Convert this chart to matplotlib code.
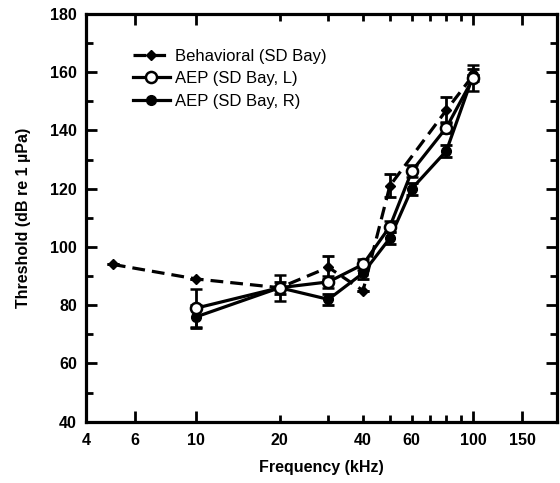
import matplotlib
matplotlib.use("Agg")
import matplotlib.pyplot as plt
from matplotlib.lines import Line2D
from matplotlib.ticker import FixedLocator, FixedFormatter

plt.rcParams['font.family'] = ['Liberation Sans', 'DejaVu Sans']

# Behavioral (SD Bay)
beh_f = [5, 10, 20, 30, 40, 50, 80, 100]
beh_db = [94, 89, 86, 93, 85, 121, 147, 159]
beh_err = [0, 0, 0, 4, 0, 4, 4.5, 0]

# AEP (SD Bay, L)
l_f = [10, 20, 30, 40, 50, 60, 80, 100]
l_db = [79, 86, 88, 94, 107, 126, 141, 158]
l_err = [6.5, 4.5, 2, 2, 2, 2, 2, 4.5]

# AEP (SD Bay, R)
r_f = [10, 20, 30, 40, 50, 60, 80, 100]
r_db = [76, 86, 82, 91, 103, 120, 133, 159]
r_err = [4, 2, 2, 2, 2, 2, 2, 2]

x_major = [4, 6, 10, 100, 150]
x_minor = [20, 30, 40, 50, 60, 70, 80, 90]
x_minor_labels = ['20', '', '40', '', '60', '', '', '']

fig = plt.figure(figsize=(5.6, 4.83), dpi=100)
ax = fig.add_axes([0.1536, 0.127, 0.994 - 0.1536, 0.971 - 0.127])

lw = 2.3
dash = (4, 2.2)
eb = dict(ecolor='black', elinewidth=2, capsize=4.5, capthick=2)
ax.errorbar(beh_f, beh_db, yerr=beh_err, fmt='--', color='black', lw=lw,
            dashes=dash, marker='D', ms=5.5, mfc='black', mec='black',
            zorder=3, **eb)
ax.errorbar(r_f, r_db, yerr=r_err, fmt='-', color='black', lw=lw,
            marker='o', ms=7, mfc='black', mec='black', zorder=4, **eb)
ax.errorbar(l_f, l_db, yerr=l_err, fmt='-', color='black', lw=lw,
            marker='o', ms=8, mfc='white', mec='black', mew=1.8,
            zorder=5, **eb)

ax.set_xscale('log')
ax.set_xlim(4, 200)
ax.set_ylim(40, 180)

ax.xaxis.set_major_locator(FixedLocator(x_major))
ax.xaxis.set_major_formatter(FixedFormatter([str(v) for v in x_major]))
ax.xaxis.set_minor_locator(FixedLocator(x_minor))
ax.xaxis.set_minor_formatter(FixedFormatter(x_minor_labels))
ax.set_yticks(range(40, 181, 20))
ax.set_yticks(range(50, 180, 20), minor=True)

for s in ax.spines.values():
    s.set_linewidth(2.3)

ax.tick_params(axis='both', which='both', direction='in', top=True, right=True,
               width=2, labelsize=11.5)
ax.tick_params(axis='x', which='major', length=8, pad=8)
ax.tick_params(axis='x', which='minor', length=5, pad=8)
ax.tick_params(axis='y', which='major', length=8, pad=6.5)
ax.tick_params(axis='y', which='minor', length=5)
for lab in ax.get_xticklabels(which='both') + ax.get_yticklabels():
    lab.set_fontweight('bold')

ax.set_xlabel('Frequency (kHz)', fontsize=11.5, fontweight='bold', labelpad=9)
ax.set_ylabel('Threshold (dB re 1 \u00b5Pa)', fontsize=11.5, fontweight='bold', labelpad=14)

handles = [
    Line2D([], [], color='black', lw=lw, ls='--', dashes=dash, marker='D', ms=5.5,
           mfc='black', mec='black'),
    Line2D([], [], color='black', lw=lw, marker='o', ms=8, mfc='white',
           mec='black', mew=1.8),
    Line2D([], [], color='black', lw=lw, marker='o', ms=7, mfc='black', mec='black'),
]
labels = ['Behavioral (SD Bay)', 'AEP (SD Bay, L)', 'AEP (SD Bay, R)']
ax.legend(handles, labels, loc='upper left', bbox_to_anchor=(0.1, 0.915),
          frameon=False, fontsize=12, handlelength=2.2, handletextpad=0.3,
          labelspacing=0.45, borderaxespad=0, borderpad=0)

fig.savefig('out.png', dpi=100)
